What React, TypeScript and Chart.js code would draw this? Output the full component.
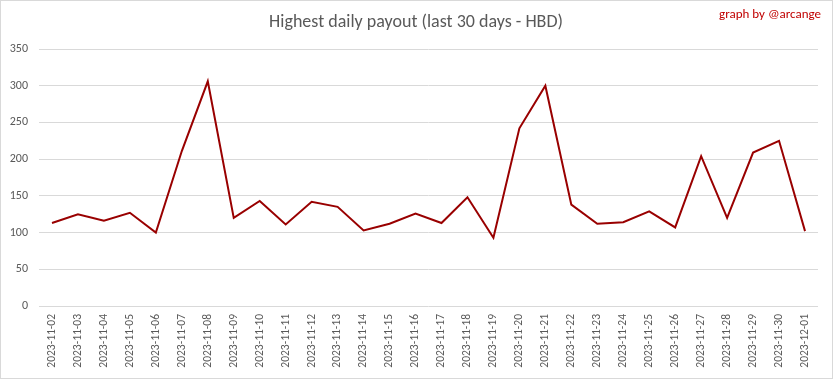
import React, { useEffect, useRef } from "react";
import { Chart, registerables } from "chart.js";

Chart.register(...registerables);

const categories: string[] = [
  "2023-11-02", "2023-11-03", "2023-11-04", "2023-11-05", "2023-11-06",
  "2023-11-07", "2023-11-08", "2023-11-09", "2023-11-10", "2023-11-11",
  "2023-11-12", "2023-11-13", "2023-11-14", "2023-11-15", "2023-11-16",
  "2023-11-17", "2023-11-18", "2023-11-19", "2023-11-20", "2023-11-21",
  "2023-11-22", "2023-11-23", "2023-11-24", "2023-11-25", "2023-11-26",
  "2023-11-27", "2023-11-28", "2023-11-29", "2023-11-30", "2023-12-01",
];

const payouts: number[] = [
  113, 125, 116, 127, 100,
  211, 306, 120, 143, 111,
  142, 135, 103, 112, 126,
  113, 148, 93, 242, 300,
  138, 112, 114, 129, 107,
  204, 120, 209, 225, 102,
];

const titleText = "Highest daily payout (last 30 days - HBD)";
const creditText = "graph by @arcange";
const yMax = 350;
const yStep = 50;

const FONT = "Carlito, Calibri, 'Liberation Sans Narrow', 'DejaVu Sans Condensed', sans-serif";

export default function App() {
  const ref = useRef<HTMLCanvasElement | null>(null);

  useEffect(() => {
    document.body.style.margin = "0";
    const canvas = ref.current;
    if (!canvas) return;

    const decor = {
      id: "decor",
      afterDraw(chart: any) {
        const ctx = chart.ctx as CanvasRenderingContext2D;
        ctx.save();
        ctx.strokeStyle = "#d9d9d9";
        ctx.lineWidth = 1;
        ctx.strokeRect(0.5, 0.5, chart.width - 1, chart.height - 1);
        ctx.fillStyle = "#595959";
        ctx.font = `18px ${FONT}`;
        ctx.textAlign = "center";
        ctx.textBaseline = "middle";
        ctx.fillText(titleText, 416, 22);
        ctx.fillStyle = "#c00000";
        ctx.font = `13px ${FONT}`;
        ctx.textAlign = "right";
        ctx.fillText(creditText, 821, 15);
        ctx.restore();
      },
    };

    const chart = new Chart(canvas, {
      type: "line",
      data: {
        labels: categories,
        datasets: [
          {
            data: payouts,
            borderColor: "#990000",
            borderWidth: 2,
            pointRadius: 0,
            tension: 0,
            fill: false,
          },
        ],
      },
      options: {
        animation: false,
        responsive: false,
        layout: { padding: { left: 0, right: 15, top: 49, bottom: 0 } },
        plugins: {
          legend: { display: false },
          title: { display: false },
          tooltip: { enabled: false },
        },
        scales: {
          x: {
            offset: true,
            grid: { display: false, drawTicks: false },
            border: { display: false },
            ticks: {
              color: "#595959",
              font: { family: FONT, size: 11.5 },
              minRotation: 90,
              maxRotation: 90,
              autoSkip: false,
              padding: 8,
            },
            afterFit(scale: any) {
              scale.height = 73;
            },
          },
          y: {
            min: 0,
            max: yMax,
            grid: { color: "#d9d9d9", drawTicks: false },
            border: { display: false },
            ticks: {
              stepSize: yStep,
              color: "#595959",
              font: { family: FONT, size: 12 },
              padding: 11,
            },
            afterFit(scale: any) {
              scale.width = 39;
            },
          },
        },
      },
      plugins: [decor],
    });

    return () => chart.destroy();
  }, []);

  return (
    <div style={{ width: 833, height: 379 }}>
      <canvas ref={ref} width={833} height={379} style={{ display: "block" }} />
    </div>
  );
}
